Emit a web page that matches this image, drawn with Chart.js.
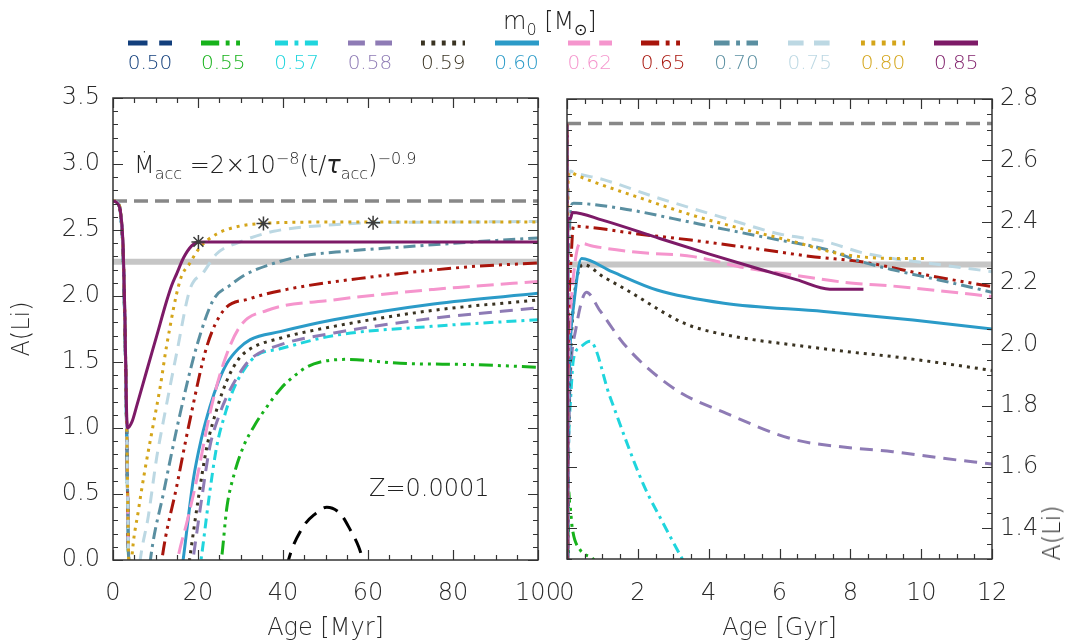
<!DOCTYPE html>
<html>
<head>
<meta charset="utf-8">
<script src="https://cdn.jsdelivr.net/npm/chart.js@4.4.0/dist/chart.umd.min.js"></script>
<style>
  html, body { margin: 0; padding: 0; background: #fff; }
  body { width: 1085px; height: 643px; position: relative; overflow: hidden;
         font-family: "DejaVu Sans", sans-serif; font-weight: 200; color: #222; }
  #leftBox { position: absolute; left: 0; top: 0; width: 575px; height: 643px; }
  #rightBox { position: absolute; left: 548px; top: 0; width: 537px; height: 643px; }
  .txt { position: absolute; white-space: nowrap; font-size: 24px; line-height: 1; color: #222; }
  .txt sub, .txt sup { font-size: 16px; line-height: 0; }
  #legend .item { position: absolute; top: 40px; width: 70px; text-align: center; }
  #legend .item canvas { display: block; margin: 0 auto; }
  #legend .item span { display: block; font-size: 20px; margin-top: 4px; }
</style>
</head>
<body>
<div id="leftBox"><canvas id="leftChart" width="575" height="643"></canvas></div>
<div id="rightBox"><canvas id="rightChart" width="537" height="643"></canvas></div>

<div class="txt" style="left:503px; top:9px;">m<sub>0</sub> [M<sub>⊙</sub>]</div>
<div id="legend"></div>
<div class="txt" style="left:134px; top:153px;">Ṁ<sub>acc</sub> =2×10<sup>−8</sup>(t/<i>τ</i><sub>acc</sub>)<sup>−0.9</sup></div>
<div class="txt" style="left:369px; top:476px;">Z=0.0001</div>
<div class="txt" style="left:1052px; top:533px; transform: translate(-50%,-50%) rotate(-90deg);">A(Li)</div>

<script>
// initial mass of each model and its style
const massLabels = ['0.50', '0.55', '0.57', '0.58', '0.59', '0.60', '0.62', '0.65', '0.70', '0.75', '0.80', '0.85'];
const massColors = ['#123f7c', '#17b21b', '#1fd5dd', '#8e7bb5', '#3a3322', '#2b9bc8',
                    '#f595cd', '#a8150c', '#5a8fa1', '#bcd8e3', '#d4a51a', '#7d1a67'];
const lineColors = ['#000000', '#17b21b', '#1fd5dd', '#8e7bb5', '#3a3322', '#2b9bc8',
                    '#f595cd', '#a8150c', '#5a8fa1', '#bcd8e3', '#d4a51a', '#7d1a67'];
const massDashes = [[15, 9], [14, 5, 3, 5, 3, 5, 3, 5], [10, 5, 3, 5], [13, 8], [3, 5], [],
                    [17, 7], [14, 5, 3, 5, 3, 5, 3, 5], [12, 5, 3, 5], [12, 8], [3, 5], []];

// A(Li) vs age in Myr (pre-main sequence, accretion phase)
const m050_myr = [[0, 2.72], [1, 2.71], [1.8, 2.62], [2.4, 2.3], [2.9, 1.6], [3.3, 0.8], [3.6, 0.1], [6, -1.5], [20, -2.5], [35, -1.0],
                  [41.3, 0], [44.5, 0.24], [47.6, 0.35], [50.3, 0.40], [53.5, 0.35], [55.8, 0.23], [57.8, 0.10], [58.8, 0], [65, -0.8], [100, -3]];
const m055_myr = [[0, 2.72], [1, 2.71], [1.8, 2.61], [2.4, 2.28], [2.9, 1.58], [3.3, 0.78], [3.6, 0.08], [8, -1.6], [20, -1.0],
                  [25.5, 0], [26.8, 0.40], [28.5, 0.65], [30.7, 0.86], [33.5, 1.03], [36.2, 1.16], [39.5, 1.30], [42.5, 1.39],
                  [45.5, 1.46], [48.8, 1.50], [55, 1.52], [67.6, 1.49], [85, 1.48], [100, 1.46]];
const m057_myr = [[0, 2.72], [1, 2.71], [1.8, 2.61], [2.4, 2.29], [2.9, 1.59], [3.3, 0.79], [3.6, 0.09], [8, -1.5], [17, -0.7],
                  [20.7, 0], [22.5, 0.45], [24.4, 0.86], [26.5, 1.12], [28.3, 1.29], [31, 1.45], [33.8, 1.55], [39.3, 1.60],
                  [51.9, 1.70], [75, 1.77], [100, 1.82]];
const m058_myr = [[0, 2.72], [1, 2.71], [1.8, 2.62], [2.4, 2.3], [2.9, 1.6], [3.3, 0.8], [3.6, 0.1], [7, -1.5], [15, -0.8],
                  [18.8, 0], [20.8, 0.45], [22.8, 0.86], [24.8, 1.08], [26.8, 1.24], [29.5, 1.40], [32.3, 1.52], [39.3, 1.63],
                  [52, 1.72], [75, 1.83], [100, 1.91]];
const m059_myr = [[0, 2.72], [1, 2.71], [1.8, 2.62], [2.4, 2.3], [2.9, 1.6], [3.3, 0.8], [3.6, 0.1], [7, -1.4], [14.5, -0.8],
                  [18, 0], [20, 0.45], [22.1, 0.86], [24.5, 1.15], [26.8, 1.36], [29.5, 1.52], [32.3, 1.60], [39.3, 1.68],
                  [52, 1.77], [75, 1.89], [100, 1.97]];
const m060_myr = [[0, 2.72], [1, 2.71], [1.8, 2.62], [2.4, 2.31], [2.9, 1.61], [3.3, 0.81], [3.6, 0.11], [6.5, -1.4], [13, -0.8],
                  [16.5, 0], [18.9, 0.61], [20.8, 0.92], [22.8, 1.16], [24.8, 1.35], [26.8, 1.49], [29.5, 1.60], [32.3, 1.67],
                  [39.3, 1.73], [51.9, 1.82], [75.4, 1.94], [100, 2.02]];
const m062_myr = [[0, 2.72], [1, 2.71], [1.8, 2.62], [2.4, 2.31], [2.9, 1.62], [3.3, 0.82], [3.6, 0.12], [6, -1.3], [12, -0.7],
                  [15.2, 0], [17.5, 0.30], [19.7, 0.61], [22.8, 1.11], [26, 1.49], [29.9, 1.77], [36.2, 1.89], [51.9, 1.97],
                  [75.4, 2.05], [83.3, 2.07], [100, 2.11]];
const m065_myr = [[0, 2.72], [1, 2.71], [1.8, 2.62], [2.4, 2.32], [2.9, 1.63], [3.3, 0.83], [3.6, 0.13], [6, -1.2], [9.5, -0.6],
                  [11.5, 0], [15, 0.56], [18.1, 1.06], [22.1, 1.62], [26, 1.89], [32.3, 1.98], [40.9, 2.05], [59.8, 2.14],
                  [83.3, 2.22], [100, 2.25]];
const m070_myr = [[0, 2.72], [1, 2.71], [1.8, 2.63], [2.4, 2.33], [2.9, 1.64], [3.3, 0.84], [3.6, 0.14], [5, -1.0], [7.3, -0.5],
                  [8.8, 0], [11.9, 0.51], [15.8, 1.11], [19.7, 1.62], [23.6, 1.97], [27.5, 2.08], [31, 2.16], [36.2, 2.23],
                  [44, 2.30], [55, 2.34], [67.6, 2.37], [85, 2.41], [100, 2.44]];
const m075_myr = [[0, 2.72], [1, 2.71], [1.8, 2.63], [2.4, 2.33], [2.9, 1.65], [3.3, 0.85], [3.6, 0.15], [4.5, -0.6],
                  [6.4, 0], [8.3, 0.33], [10.3, 0.78], [11.9, 1.06], [15, 1.57], [18.1, 2.05], [21.3, 2.18], [24.4, 2.32],
                  [29.9, 2.41], [37.8, 2.49], [51.9, 2.54], [61.2, 2.555], [80, 2.56], [100, 2.565]];
const m080_myr = [[0, 2.72], [1, 2.71], [1.8, 2.63], [2.4, 2.34], [2.9, 1.66], [3.3, 0.86], [3.6, 0.16], [3.9, -0.3],
                  [4.4, 0], [6, 0.38], [7.5, 0.68], [9.5, 1.03], [11.1, 1.31], [12.6, 1.62], [15.8, 2.12], [18.1, 2.25],
                  [20.5, 2.37], [24.4, 2.47], [29.9, 2.53], [35.4, 2.55], [50, 2.56], [70, 2.56], [100, 2.56]];
const m085_myr = [[0, 2.72], [0.8, 2.71], [1.8, 2.63], [2.4, 2.36], [2.8, 1.86], [3.0, 1.46], [3.2, 1.12], [3.4, 1.0],
                  [4.5, 1.05], [5.6, 1.17], [7.9, 1.43], [10.3, 1.70], [12.6, 1.96], [13.8, 2.08], [15, 2.17], [16.6, 2.29],
                  [18.5, 2.38], [20.1, 2.41], [40, 2.41], [60, 2.41], [80, 2.41], [100, 2.41]];

// A(Li) vs age in Gyr (main sequence)
const m050_gyr = [];
const m055_gyr = [[0.15, 1.40], [0.37, 1.33], [0.74, 1.30], [0.85, 1.28]];
const m057_gyr = [[0.18, 1.95], [0.37, 1.99], [0.65, 2.01], [1.21, 1.83], [2.15, 1.545], [2.7, 1.42], [3.28, 1.295], [3.5, 1.25]];
const m058_gyr = [[0.25, 2.05], [0.55, 2.17], [0.93, 2.11], [1.69, 1.99], [3.1, 1.85], [4.5, 1.775], [6.4, 1.69],
                  [7.8, 1.665], [9.2, 1.65], [10.5, 1.63], [12, 1.61]];
const m059_gyr = [[0.2, 2.15], [0.46, 2.26], [1.03, 2.22], [1.69, 2.177], [3.1, 2.08], [3.57, 2.057], [5, 2.02],
                  [6.4, 1.998], [8, 1.975], [9.2, 1.96], [10.5, 1.94], [12, 1.915]];
const m060_gyr = [[0.18, 2.12], [0.41, 2.28], [1.27, 2.237], [2.54, 2.177], [4.43, 2.134], [7.25, 2.107], [9.77, 2.079], [12, 2.05]];
const m062_gyr = [[0.37, 2.33], [0.74, 2.32], [2, 2.30], [3.57, 2.286], [5, 2.25], [6.4, 2.226], [8, 2.20], [9.2, 2.19],
                  [10.5, 2.175], [12, 2.156]];
const m065_gyr = [[0.18, 2.385], [0.74, 2.38], [2, 2.36], [3.5, 2.34], [5.45, 2.31], [7, 2.285], [8.27, 2.27], [9.2, 2.25],
                  [10.15, 2.226], [12, 2.188]];
const m070_gyr = [[0.18, 2.46], [1.69, 2.44], [3, 2.41], [4.5, 2.374], [6, 2.34], [7.3, 2.31], [8.3, 2.27], [9.2, 2.243],
                  [10.5, 2.21], [12, 2.17]];
const m075_gyr = [[0.2, 2.56], [1.03, 2.537], [2.5, 2.48], [4.5, 2.41], [6, 2.36], [7.3, 2.335], [8.3, 2.30], [9.2, 2.28],
                  [10.5, 2.26], [12, 2.237]];
const m080_gyr = [[0.3, 2.55], [0.74, 2.53], [2, 2.48], [3.57, 2.42], [5, 2.375], [6.4, 2.335], [7.5, 2.30], [8.27, 2.286],
                  [9.2, 2.28], [10.15, 2.28]];
const m085_gyr = [[0.15, 2.43], [1, 2.405], [2.62, 2.345], [4, 2.295], [5.45, 2.245], [6.5, 2.21], [7.42, 2.18], [8.37, 2.18]];

const seriesMyr = [m050_myr, m055_myr, m057_myr, m058_myr, m059_myr, m060_myr, m062_myr, m065_myr, m070_myr, m075_myr, m080_myr, m085_myr];
const seriesGyr = [m050_gyr, m055_gyr, m057_gyr, m058_gyr, m059_gyr, m060_gyr, m062_gyr, m065_gyr, m070_gyr, m075_gyr, m080_gyr, m085_gyr];

// end of accretion markers (Myr, A(Li))
const accretionEnd = [[20.1, 2.41], [35.4, 2.55], [61.2, 2.555]];

// reference levels
const liMeteoritic = 2.72;
const liPlateau = 2.26;

// axis ticks
const myrTicks = [0, 20, 40, 60, 80, 100];
const gyrTicks = [0, 2, 4, 6, 8, 10, 12];
const leftLiTicks = [0, 0.5, 1.0, 1.5, 2.0, 2.5, 3.0, 3.5];
const rightLiTicks = [1.4, 1.6, 1.8, 2.0, 2.2, 2.4, 2.6, 2.8];

const FONT = 'DejaVu Sans';
const tickFont = { family: FONT, size: 24, weight: '200' };
const textColor = '#2a2a2a';

// frame with inward major/minor ticks on all four sides
const frameTicks = {
    id: 'frameTicks',
    afterDatasetsDraw(chart, args, o) {
        const { ctx, chartArea: a, scales: { x, y } } = chart;
        ctx.save();
        ctx.strokeStyle = '#333';
        ctx.lineWidth = 1.2;
        ctx.beginPath();
        const marks = (scale, major, minor, horizontal) => {
            const k0 = Math.ceil(scale.min / minor - 1e-6);
            const k1 = Math.floor(scale.max / minor + 1e-6);
            for (let k = k0; k <= k1; k++) {
                const v = k * minor;
                const isMajor = Math.abs(v / major - Math.round(v / major)) < 1e-6;
                const len = isMajor ? 10 : 5;
                const p = Math.round(scale.getPixelForValue(v)) + 0.5;
                if (horizontal) {
                    ctx.moveTo(p, a.bottom); ctx.lineTo(p, a.bottom - len);
                    ctx.moveTo(p, a.top); ctx.lineTo(p, a.top + len);
                } else {
                    ctx.moveTo(a.left, p); ctx.lineTo(a.left + len, p);
                    ctx.moveTo(a.right, p); ctx.lineTo(a.right - len, p);
                }
            }
        };
        marks(x, o.xMajor, o.xMinor, true);
        marks(y, o.yMajor, o.yMinor, false);
        ctx.stroke();
        ctx.lineWidth = 1.5;
        ctx.strokeRect(a.left, a.top, a.right - a.left, a.bottom - a.top);
        ctx.restore();
    }
};

function curve(i, pts) {
    return {
        label: massLabels[i],
        data: pts.map(p => ({ x: p[0], y: p[1] })),
        borderColor: lineColors[i],
        borderWidth: 3,
        borderDash: massDashes[i],
        borderCapStyle: 'butt',
        pointRadius: 0,
        cubicInterpolationMode: 'monotone',
        fill: false,
        order: 12 - i
    };
}

function levels(xmax) {
    return [
        { data: [{ x: 0, y: liMeteoritic }, { x: xmax, y: liMeteoritic }], borderColor: '#888888',
          borderWidth: 3.5, borderDash: [14, 7], pointRadius: 0, order: 60 },
        { data: [{ x: 0, y: liPlateau }, { x: xmax, y: liPlateau }], borderColor: '#c6c6c6',
          borderWidth: 6, pointRadius: 0, order: 61 }
    ];
}

function axisTicks(list) {
    return scale => { scale.ticks = list.map(v => ({ value: v })); };
}

// x axis: fixed height, no room reserved for the end labels
function xFit(h) {
    return s => { s.height = h; s.paddingLeft = 0; s.paddingRight = 0; };
}

const leftDatasets = seriesMyr.map((s, i) => curve(i, s)).concat(levels(100));
leftDatasets.push({
    data: accretionEnd.map(p => ({ x: p[0], y: p[1] })),
    showLine: false, pointStyle: 'star', pointRadius: 7,
    borderColor: '#3c3c3c', backgroundColor: '#3c3c3c', borderWidth: 1.5, order: 0
});

const rightDatasets = seriesMyr.map((s, i) =>
    curve(i, s.map(p => [p[0] / 1000, p[1]]).concat(seriesGyr[i]))
).concat(levels(12));

const common = {
    responsive: false,
    animation: false,
    events: [],
    plugins: { legend: { display: false }, tooltip: { enabled: false } }
};

new Chart(document.getElementById('leftChart'), {
    type: 'line',
    data: { datasets: leftDatasets },
    plugins: [frameTicks],
    options: {
        ...common,
        layout: { padding: { top: 98, right: 37, left: 0, bottom: 0 } },
        plugins: { ...common.plugins, frameTicks: { xMajor: 20, xMinor: 5, yMajor: 0.5, yMinor: 0.1 } },
        scales: {
            x: {
                type: 'linear', min: 0, max: 100,
                afterBuildTicks: axisTicks(myrTicks),
                afterFit: xFit(83),
                grid: { display: false, drawTicks: false }, border: { display: false },
                ticks: { font: tickFont, color: textColor, padding: 19, autoSkip: false, maxRotation: 0,
                         callback: v => String(v) },
                title: { display: true, text: 'Age [Myr]', font: tickFont, color: textColor, padding: { top: 0, bottom: 0 } }
            },
            y: {
                type: 'linear', min: 0, max: 3.5,
                afterBuildTicks: axisTicks(leftLiTicks),
                afterFit: s => { s.width = 113; },
                grid: { display: false, drawTicks: false }, border: { display: false },
                ticks: { font: tickFont, color: textColor, padding: 13, autoSkip: false,
                         callback: v => v.toFixed(1) },
                title: { display: true, text: 'A(Li)', font: tickFont, color: textColor, padding: { top: 8, bottom: 0 } }
            }
        }
    }
});

new Chart(document.getElementById('rightChart'), {
    type: 'line',
    data: { datasets: rightDatasets },
    plugins: [frameTicks],
    options: {
        ...common,
        layout: { padding: { top: 99, right: 0, left: 19, bottom: 0 } },
        plugins: { ...common.plugins, frameTicks: { xMajor: 2, xMinor: 0.5, yMajor: 0.2, yMinor: 0.05 } },
        scales: {
            x: {
                type: 'linear', min: 0, max: 12,
                afterBuildTicks: axisTicks(gyrTicks),
                afterFit: xFit(84),
                grid: { display: false, drawTicks: false }, border: { display: false },
                ticks: { font: tickFont, color: textColor, padding: 20, autoSkip: false, maxRotation: 0,
                         callback: v => String(v) },
                title: { display: true, text: 'Age [Gyr]', font: tickFont, color: textColor, padding: { top: 0, bottom: 0 } }
            },
            y: {
                type: 'linear', position: 'right', min: 1.3, max: 2.8,
                afterBuildTicks: axisTicks(rightLiTicks),
                afterFit: s => { s.width = 93; },
                grid: { display: false, drawTicks: false }, border: { display: false },
                ticks: { font: tickFont, color: textColor, padding: 8, autoSkip: false,
                         callback: v => v.toFixed(1) }
            }
        }
    }
});

// legend: sample line above each mass label
const legend = document.getElementById('legend');
massLabels.forEach((m, i) => {
    const item = document.createElement('div');
    item.className = 'item';
    item.style.left = (150 + i * 73.3 - 35) + 'px';
    const c = document.createElement('canvas');
    c.width = 44; c.height = 6;
    const g = c.getContext('2d');
    g.strokeStyle = massColors[i];
    g.lineWidth = 5;
    g.setLineDash(massDashes[i].map(d => d * 1.3));
    g.beginPath(); g.moveTo(0, 3); g.lineTo(44, 3); g.stroke();
    const t = document.createElement('span');
    t.textContent = m;
    t.style.color = massColors[i];
    item.appendChild(c);
    item.appendChild(t);
    legend.appendChild(item);
});
</script>
</body>
</html>
